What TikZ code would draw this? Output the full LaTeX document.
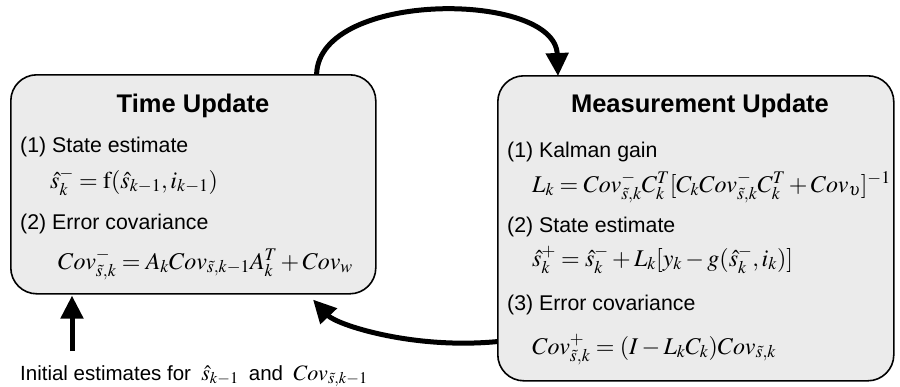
\documentclass[tikz,border=0pt]{standalone}
\usepackage{mathptmx}
\usepackage{fontspec}
\setmainfont{Liberation Sans}
\usetikzlibrary{arrows.meta}
\definecolor{boxfill}{HTML}{EBEBEB}
\tikzset{
  panel/.style={draw=black, line width=1.6pt, fill=boxfill, rounded corners=26pt, minimum width=#1, anchor=north west, inner sep=0pt},
  ttl/.style={font=\fontsize{25.5}{30}\selectfont\bfseries, anchor=base},
  lbl/.style={font=\fontsize{21.3}{25}\selectfont, anchor=base west, inner sep=0pt},
  eq/.style={font=\fontsize{24}{28}\selectfont, anchor=base west, inner sep=0pt},
  flow/.style={line width=5pt, -{Triangle[length=23pt,width=22pt]}}
}
\begin{document}
\begin{tikzpicture}[x=1pt,y=-1pt]
\useasboundingbox (0,0) rectangle (900,386);
\node[panel=365pt, minimum height=219pt] (tu) at (10,74) {};
\node[panel=396pt, minimum height=305pt] (mu) at (497,75) {};
% left box texts
\node[ttl] (tut) at (193,112) {Time Update};
\node[lbl] (l1) at (20,152) {(1) State estimate};
\node[eq] (e1) at (50,188) {$\hat{s}_k^- = \mathrm{f}(\hat{s}_{k-1}, i_{k-1})$};
\node[lbl] (l2) at (20,229) {(2) Error covariance};
\node[eq] (e2) at (58,269) {$Cov_{\tilde{s},k}^- = A_k Cov_{\tilde{s},k-1} A_k^T + Cov_w$};
% right box texts
\node[ttl] (mut) at (700,112) {Measurement Update};
\node[lbl] (r1) at (507,157) {(1) Kalman gain};
\node[eq] (f1) at (532,192) {$L_k = Cov_{\tilde{s},k}^- C_k^T [C_k Cov_{\tilde{s},k}^- C_k^T + Cov_{\upsilon}]^{-1}$};
\node[lbl] (r2) at (507,232) {(2) State estimate};
\node[eq] (f2) at (532,266) {$\hat{s}_k^+ = \hat{s}_k^- + L_k [y_k - g(\hat{s}_k^-, i_k)]$};
\node[lbl] (r3) at (507,310) {(3) Error covariance};
\node[eq] (f3) at (532,354) {$Cov_{\tilde{s},k}^+ = (I - L_k C_k) Cov_{\tilde{s},k}$};
% bottom text
\node[lbl, font=\fontsize{20.5}{24}\selectfont] (init) at (20,380) {Initial estimates for\enspace{\fontsize{22}{26}\selectfont$\hat{s}_{k-1}$}\enspace and\enspace{\fontsize{22}{26}\selectfont$Cov_{\tilde{s},k-1}$}};
\coordinate (start) at (72,351);
% connectors
\draw[flow] ([xshift=-60pt]tu.north east) .. controls ([xshift=-57pt,yshift=84pt]tu.north east) and ([xshift=58pt,yshift=84pt]mu.north west) .. ([xshift=61pt,yshift=-1pt]mu.north west);
\draw[flow] ([yshift=40pt]mu.south west) .. controls ([xshift=-85pt,yshift=32pt]mu.south west) and ([xshift=-40pt,yshift=-30pt]tu.south east) .. ([xshift=303pt,yshift=-5pt]tu.south west);
\draw[flow] (start) -- ([xshift=62pt,yshift=-1pt]tu.south west);
\end{tikzpicture}
\end{document}
